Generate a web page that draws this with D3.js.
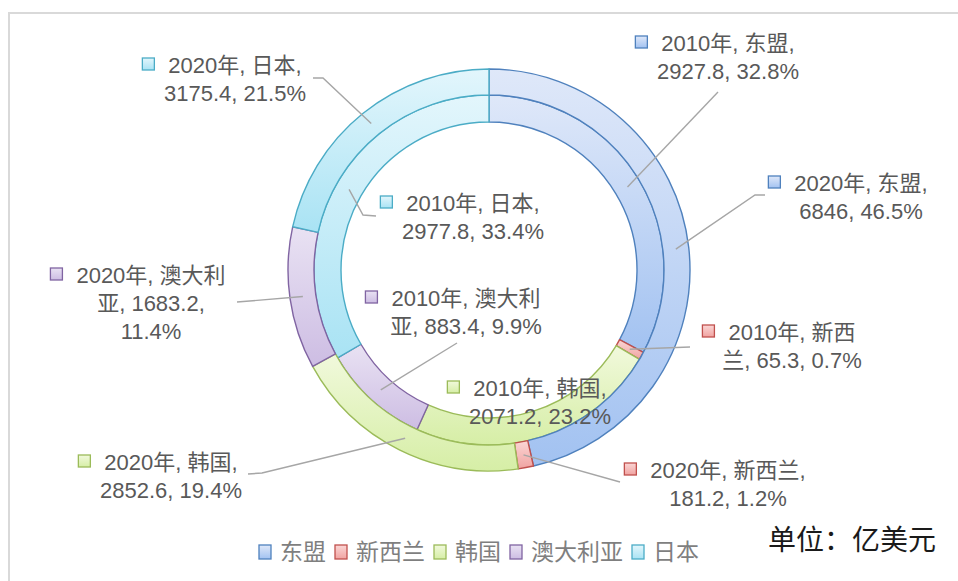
<!DOCTYPE html>
<html><head><meta charset="utf-8">
<script src="https://cdn.jsdelivr.net/npm/d3@7"></script>
<style>body{margin:0;background:#fff}svg{display:block}</style>
</head><body><svg id="c" width="958" height="581"></svg>
<script>
// ---- data ----
const categories = ["东盟", "新西兰", "韩国", "澳大利亚", "日本"];
const years = ["2010年", "2020年"];
const values2010 = [2927.8, 65.3, 2071.2, 883.4, 2977.8];
const values2020 = [6846, 181.2, 2852.6, 1683.2, 3175.4];
const unitLabel = "单位：亿美元";

// ---- styles ----
const fillLight = ["#dfe8f9", "#fbd6d5", "#f1f9dc", "#e9e2f3", "#e3f6fc"];
const fillDark  = ["#a2c2f1", "#f0a3a1", "#d6eea6", "#cdbde3", "#a9e3f4"];
const strokes   = ["#4f81bd", "#c0504d", "#9bbb59", "#8064a2", "#4bacc6"];

// label layout (annotation placement, not data)
const labelLayout = [
  {ring:0, i:0, x:728, y:43,  wrap:[10],    leader:[[718,92]]},
  {ring:1, i:0, x:861, y:183, wrap:[10],    leader:[[755,195],[765,195]]},
  {ring:1, i:4, x:235, y:65,  wrap:[10],    leader:[[323,78],[313,78]]},
  {ring:0, i:4, x:473, y:203, wrap:[10],    leader:[[363,215],[376,216]]},
  {ring:1, i:3, x:151, y:275, wrap:[10,10], leader:[[237,302]]},
  {ring:0, i:3, x:466, y:298, wrap:[10],    leader:[[457,343]]},
  {ring:0, i:2, x:540, y:388, wrap:[10],    leader:[]},
  {ring:1, i:2, x:171, y:462, wrap:[10],    leader:[[262,473],[248,474]]},
  {ring:0, i:1, x:792, y:332, wrap:[9],     leader:[[690,347]]},
  {ring:1, i:1, x:728, y:470, wrap:[11],    leader:[[620,482]]}
];

const W = 958, H = 581;
const cx = 489, cy = 270;
const rings = [{r0:148, r1:175, values: values2010}, {r0:175, r1:201, values: values2020}];
const labelFont = "'Liberation Sans', 'Noto Sans CJK SC', sans-serif";
const cjkFont = "'Noto Sans CJK SC', 'Noto Sans', sans-serif";
const fs = 22, lh = 28;

const svg = d3.select("#c");
svg.append("rect").attr("width", W).attr("height", H).attr("fill", "#fff");
svg.append("rect").attr("x", 9).attr("y", 13).attr("width", W + 20).attr("height", H + 20)
  .attr("fill", "none").attr("stroke", "#d9d9d9").attr("stroke-width", 2);

const defs = svg.append("defs");
categories.forEach((c, i) => {
  const g = defs.append("linearGradient").attr("id", "g" + i)
    .attr("x1", 0).attr("y1", 0).attr("x2", 0).attr("y2", 1);
  g.append("stop").attr("offset", "0%").attr("stop-color", fillLight[i]);
  g.append("stop").attr("offset", "100%").attr("stop-color", fillDark[i]);
});

const pie = d3.pie().sort(null).value(d => d).startAngle(0).endAngle(2 * Math.PI);
const chart = svg.append("g").attr("transform", `translate(${cx},${cy})`);
const arcsData = rings.map(rg => pie(rg.values));

rings.forEach((rg, ri) => {
  const arc = d3.arc().innerRadius(rg.r0).outerRadius(rg.r1);
  chart.append("g").selectAll("path").data(arcsData[ri]).join("path")
    .attr("d", arc)
    .attr("fill", (d, i) => `url(#g${i})`)
    .attr("stroke", (d, i) => strokes[i])
    .attr("stroke-width", 1.4)
    .attr("stroke-linejoin", "round");
});

// leader lines
const fmtPct = d3.format(".1%");
labelLayout.forEach(L => {
  if (!L.leader.length) return;
  const rg = rings[L.ring];
  const arc = d3.arc().innerRadius(rg.r0).outerRadius(rg.r1);
  const c = arc.centroid(arcsData[L.ring][L.i]);
  const pts = [[c[0] + cx, c[1] + cy]].concat(L.leader);
  svg.append("path").attr("d", d3.line()(pts))
    .attr("fill", "none").attr("stroke", "#a6a6a6").attr("stroke-width", 1.4);
});

// labels
labelLayout.forEach(L => {
  const vals = rings[L.ring].values;
  const total = d3.sum(vals);
  const v = vals[L.i];
  let s = `${years[L.ring]}, ${categories[L.i]}, ${v}, ${fmtPct(v / total)}`;
  const lines = [];
  L.wrap.forEach(n => { s = s.replace(/^\s+/, ""); lines.push(s.slice(0, n)); s = s.slice(n); });
  s = s.replace(/^\s+/, "");
  if (s.length) lines.push(s);
  const g = svg.append("g");
  const text = g.append("text")
    .attr("text-anchor", "middle")
    .attr("font-family", labelFont).attr("font-size", fs)
    .attr("fill", "#595959");
  const spans = lines.map((t, k) => text.append("tspan")
    .attr("x", L.x).attr("y", L.y + k * lh).attr("dy", "0.36em").text(t));
  const w1 = spans[0].node().getComputedTextLength();
  const mx = L.x - w1 / 2 - 14 - 12;
  g.append("rect").attr("x", mx).attr("y", L.y - 7).attr("width", 12).attr("height", 12)
    .attr("fill", `url(#g${L.i})`).attr("stroke", strokes[L.i]).attr("stroke-width", 1.3);
});

// legend
let lx = 259;
const ly = 552;
const lg = svg.append("g");
categories.forEach((c, i) => {
  lg.append("rect").attr("x", lx).attr("y", ly - 7).attr("width", 12).attr("height", 14)
    .attr("fill", `url(#g${i})`).attr("stroke", strokes[i]).attr("stroke-width", 1.3);
  lx += 12 + 9;
  const t = lg.append("text").attr("x", lx).attr("y", ly).attr("dy", "0.36em")
    .attr("font-family", cjkFont).attr("font-size", 23).attr("fill", "#7f7f7f").text(c);
  lx += t.node().getComputedTextLength() + 9;
});

svg.append("text").attr("x", 768).attr("y", 540).attr("dy", "0.36em")
  .attr("font-family", cjkFont).attr("font-size", 28).attr("fill", "#1a1a1a").text(unitLabel);
</script>
</body></html>
